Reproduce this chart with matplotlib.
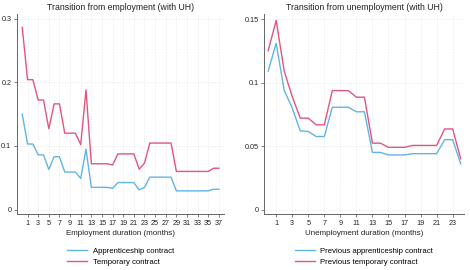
import matplotlib
matplotlib.use("Agg")
import matplotlib.pyplot as plt

# months since start of spell
emp_months = list(range(0, 38))
unemp_months = list(range(0, 25))

# transition from employment
emp_apprentice = [0.150, 0.103, 0.103, 0.086, 0.086, 0.063, 0.083, 0.083, 0.059, 0.059,
                  0.059, 0.049, 0.095, 0.035, 0.035, 0.035, 0.035, 0.0335, 0.0425, 0.0425,
                  0.0425, 0.0425, 0.031, 0.035, 0.051, 0.051, 0.051, 0.051, 0.051, 0.0295,
                  0.0295, 0.0295, 0.0295, 0.0295, 0.0295, 0.0295, 0.032, 0.032]
emp_temporary = [0.286, 0.204, 0.204, 0.172, 0.172, 0.127, 0.166, 0.166, 0.120, 0.120,
                 0.120, 0.102, 0.188, 0.072, 0.072, 0.072, 0.072, 0.070, 0.0875, 0.0875,
                 0.0875, 0.0875, 0.0636, 0.073, 0.1045, 0.1045, 0.1045, 0.1045, 0.1045, 0.060,
                 0.060, 0.060, 0.060, 0.060, 0.060, 0.060, 0.065, 0.065]

# transition from unemployment
unemp_apprentice = [0.109, 0.131, 0.094, 0.080, 0.062, 0.0615, 0.0575, 0.0575, 0.0806, 0.0806,
                    0.0806, 0.077, 0.077, 0.045, 0.045, 0.043, 0.043, 0.043, 0.044, 0.044,
                    0.044, 0.044, 0.055, 0.055, 0.036]
unemp_temporary = [0.125, 0.149, 0.109, 0.089, 0.072, 0.072, 0.0667, 0.0667, 0.0937, 0.0937,
                   0.0937, 0.0885, 0.0885, 0.0523, 0.0523, 0.049, 0.049, 0.049, 0.0505, 0.0505,
                   0.0505, 0.0505, 0.0635, 0.0635, 0.040]

emp_xticks = list(range(1, 38, 2))
unemp_xticks = list(range(1, 24, 2))
emp_yticks = [0, 0.1, 0.2, 0.3]
emp_yticklabels = ["0", "0.1", "0.2", "0.3"]
unemp_yticks = [0, 0.05, 0.1, 0.15]
unemp_yticklabels = ["0", "0.05", "0.1", "0.15"]

BLUE = "#62b4e4"
RED = "#e2557f"
AXIS = "#666666"

plt.rcParams["font.family"] = ["Liberation Sans", "DejaVu Sans"]

fig = plt.figure(figsize=(4.7, 2.7), dpi=100)
ax1 = fig.add_axes([0.036, 0.207, 0.441, 0.741])
ax2 = fig.add_axes([0.562, 0.207, 0.425, 0.741])


def style_axis(ax, xticks, yticks, yticklabels):
    ax.set_xticks(xticks)
    ax.set_yticks(yticks)
    ax.set_yticklabels(yticklabels)
    ax.grid(True, color="#e6e6e6", linestyle=(0, (2, 2)), linewidth=0.5)
    ax.set_axisbelow(True)
    for side in ["top", "right"]:
        ax.spines[side].set_visible(False)
    for side in ["left", "bottom"]:
        ax.spines[side].set_color(AXIS)
        ax.spines[side].set_linewidth(0.7)
    ax.tick_params(axis="both", direction="out", length=2.5, width=0.6,
                   color=AXIS, labelsize=5.2, pad=1.5, labelcolor="#222222")


def add_legend(ax):
    ax.legend(loc="upper center", bbox_to_anchor=(0.5, 0.098),
              bbox_transform=fig.transFigure, frameon=False, fontsize=5.6,
              handlelength=2.6, handletextpad=0.7, labelspacing=0.45, borderpad=0)


# left panel
ax1.plot(emp_months, emp_apprentice, color=BLUE, lw=1.0, label="Apprenticeship contract")
ax1.plot(emp_months, emp_temporary, color=RED, lw=1.0, label="Temporary contract")
ax1.set_xlim(-1, 38)
ax1.set_ylim(-0.007, 0.307)
style_axis(ax1, emp_xticks, emp_yticks, emp_yticklabels)
ax1.set_title("Transition from employment (with UH)", fontsize=6.3, pad=3, color="#222222")
ax1.set_xlabel("Employment duration (months)", fontsize=5.8, labelpad=2.5, color="#222222")
add_legend(ax1)
# keep the legend centred under its own panel
ax1.get_legend().set_bbox_to_anchor((0.2565, 0.098), transform=fig.transFigure)

# right panel
ax2.plot(unemp_months, unemp_apprentice, color=BLUE, lw=1.0, label="Previous apprenticeship contract")
ax2.plot(unemp_months, unemp_temporary, color=RED, lw=1.0, label="Previous temporary contract")
ax2.set_xlim(-0.5, 24.4)
ax2.set_ylim(-0.0036, 0.154)
style_axis(ax2, unemp_xticks, unemp_yticks, unemp_yticklabels)
ax2.set_title("Transition from unemployment (with UH)", fontsize=6.3, pad=3, color="#222222")
ax2.set_xlabel("Unemployment duration (months)", fontsize=5.8, labelpad=2.5, color="#222222")
add_legend(ax2)
ax2.get_legend().set_bbox_to_anchor((0.7745, 0.098), transform=fig.transFigure)

fig.savefig("out.png", dpi=100)
